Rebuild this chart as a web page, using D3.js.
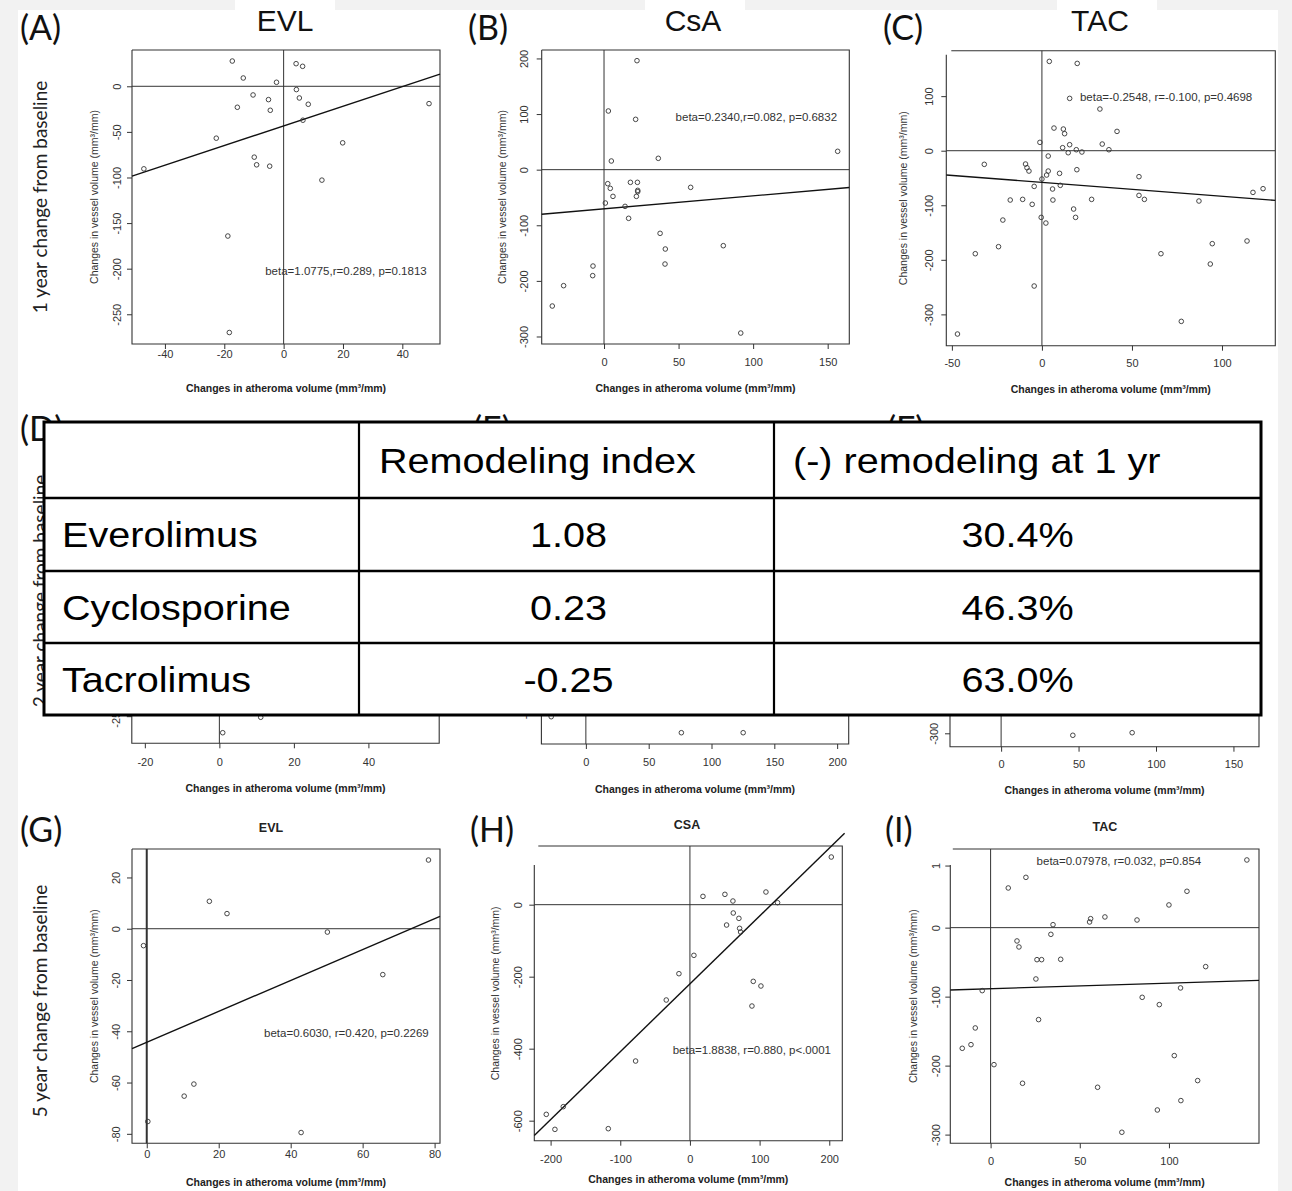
<!DOCTYPE html>
<html>
<meta charset="utf-8">
<script src="https://d3js.org/d3.v7.min.js"></script>
<style>
body { margin: 0; background: #f2f2f2; }
svg text { font-family: "Liberation Sans", Arial, sans-serif; }
</style>
<div id="fig"></div>

<script>

// ---- 1 year (A, B, C) ----
var evl1Atheroma = [-47.1,-22.7,-17.3,-13.6,-15.6,-10.3,-9.9,-9.1,-4.7,-5.1,-4.5,-2.4,-18.8,-18.3,4.2,6.4,4.3,5.3,8.3,6.5,19.9,12.9,49.0];
var evl1Vessel   = [-90.5,-56.9,27.7,9.1,-23.0,-9.5,-77.7,-86.1,-87.6,-14.6,-26.3,4.4,-164.2,-270.0,24.8,21.9,-3.6,-12.8,-19.7,-37.2,-62.0,-102.9,-19.0];

var csa1Atheroma = [22.1,2.9,21.2,4.9,36.4,156.7,2.5,4.2,6.0,0.9,17.7,22.4,22.6,22.6,21.7,14.1,16.5,58.1,37.6,41.1,40.9,80.0,-7.4,-7.6,-27.1,-34.7,91.7];
var csa1Vessel   = [196,105.5,90.5,15.6,20.4,33,-25.2,-33.6,-48,-60,-22.8,-22.8,-37.2,-39.6,-48,-66,-87.5,-31.8,-114.5,-142.7,-169.7,-136.7,-173.3,-190.6,-208.6,-245.2,-293.8];

var tac1Atheroma = [4.1,19.6,15.4,32.2,6.7,11.9,12.6,41.7,-1.1,15.4,33.5,11.5,19.1,14.6,22.2,37.2,3.5,-9.1,-8.3,-7.2,3.5,9.8,19.4,2.6,0,10.2,-4.3,5.9,-32,-17.6,-10.7,-5.4,6.1,27.6,17.6,18.7,-0.4,2.2,-21.7,-24.1,-37,-4.3,-46.9,53.9,53.9,56.9,87.2,117.2,122.8,66.1,77.4,94.6,93.5,113.9];
var tac1Vessel   = [163.7,160,95.9,76.4,41.5,39.7,31.2,35.4,15.3,11,12.2,5.5,1.8,-3.7,-2.4,1.8,-9.8,-24.4,-31.2,-37.3,-37.3,-41.5,-34.8,-44.6,-51.9,-63.5,-65.4,-70.2,-25,-90.4,-89.2,-98.3,-90.4,-89.2,-106.9,-122.2,-122.2,-132.6,-127.1,-175.9,-188.8,-248,-336,-47.6,-81.9,-89.2,-92.2,-76.4,-69.6,-188.8,-312.8,-170.4,-207.7,-165.5];

// ---- 2 year (D, E, F) : only the points left visible under the table ----
var evl2Atheroma = [11.1, 0.9];
var evl2Vessel   = [-251.2, -268.3];
var csa2Atheroma = [76, 125.2, -27.6];
var csa2Vessel   = [-348.2, -348.2, -317.3];
var tac2Atheroma = [46.3, 84.6];
var tac2Vessel   = [-303.7, -298.9];

// ---- 5 year (G, H, I) ----
var evl5Atheroma = [-0.9,17.4,22.3,50.2,65.6,78.3,13.1,10.4,0.3,42.9];
var evl5Vessel   = [-6.6,10.7,5.9,-1.3,-17.9,26.8,-60.6,-65.3,-75.2,-79.5];

var csa5Atheroma = [202.9,18.7,50.2,61.7,109.1,125.8,62.2,70.3,52.6,71.3,72.7,5.7,-15.8,-34,90.9,101.9,89,-78,-181.8,-206.2,-193.8,-117.2];
var csa5Vessel   = [132.4,23.1,28.7,10.2,35.2,5.6,-23.1,-38,-56.5,-65.7,-75.9,-140.7,-191.7,-264.8,-213,-225.9,-281.5,-434.3,-561.1,-582.4,-624.1,-622.2];

var tac5Atheroma = [143.7,19.8,9.9,110.1,100,64.1,82.1,56.1,55.5,35,33.8,14.8,15.9,26,28.6,39.3,120.6,25.4,106.5,-4.7,85,94.6,26.9,-8.6,-15.9,-11,1.9,17.9,60,103,116.1,106.7,93.5,73.6];
var tac5Vessel   = [98.1,72.9,57.5,52.7,32.9,15.5,11.1,13,8.2,4.3,-9.7,-19.3,-28,-46.4,-46.4,-45.9,-56.5,-74.4,-87.4,-91.3,-101,-111.6,-133.3,-145.4,-174.9,-169.6,-198.6,-225.6,-231.4,-185.5,-221.7,-250.7,-264.3,-296.6];

// regression fits (A, B, C, G, H, I)
var slopes     = [1.0775, 0.2340, -0.2548, 0.6030, 1.8838, 0.07978];
var intercepts = [-43.5, -70.5, -58.1, -44.3, -220, -88.5];
var statTexts  = ["beta=1.0775,r=0.289, p=0.1813", "beta=0.2340,r=0.082, p=0.6832",
                  "beta=-0.2548, r=-0.100, p=0.4698", "beta=0.6030, r=0.420, p=0.2269",
                  "beta=1.8838, r=0.880, p<.0001", "beta=0.07978, r=0.032, p=0.854"];

// table
var tableHeader     = ["", "Remodeling index", "(-) remodeling at 1 yr"];
var drugs           = ["Everolimus", "Cyclosporine", "Tacrolimus"];
var remodelingIndex = [1.08, 0.23, -0.25];
var negRemodeling   = [30.4, 46.3, 63.0];

var xLabel = "Changes in atheroma volume (mm\u00b3/mm)";
var yLabel = "Changes in vessel volume (mm\u00b3/mm)";

var svg = d3.select("#fig").append("svg")
  .attr("width", 1292)
  .attr("height", 1191);

svg.append("rect").attr("width", 1292).attr("height", 1191).attr("fill", "#f2f2f2");
svg.append("rect").attr("x", 18).attr("y", 10).attr("width", 1260).attr("height", 1181).attr("fill", "#fff");
[[235, 335], [645, 745], [1057, 1157]].forEach(function(s) {
  svg.append("rect").attr("x", s[0]).attr("y", 0).attr("width", s[1] - s[0]).attr("height", 10).attr("fill", "#fff");
});

var num = function(d) { return String(d); };

function panel(p) {
  var x = d3.scaleLinear().domain(p.xd).range([p.l, p.r]);
  var y = d3.scaleLinear().domain(p.yd).range([p.b, p.t]);
  var g = svg.append("g");

  // reference lines
  g.append("line").attr("x1", p.l).attr("x2", p.r).attr("y1", y(0)).attr("y2", y(0))
    .attr("stroke", "#333").attr("stroke-width", 1);
  g.append("line").attr("x1", x(0)).attr("x2", x(0)).attr("y1", p.t).attr("y2", p.b)
    .attr("stroke", "#333").attr("stroke-width", p.vw || 1);

  // box (some panels have an open top-left corner)
  var gt = p.gapTop || 0, gl = p.gapLeft || 0;
  g.append("path")
    .attr("d", "M" + (p.l + gt) + "," + p.t + "H" + p.r + "V" + p.b + "H" + p.l + "V" + (p.t + gl))
    .attr("fill", "none").attr("stroke", "#333").attr("stroke-width", 1.1);

  g.append("g")
    .attr("transform", "translate(0," + p.b + ")")
    .call(d3.axisBottom(x).tickValues(p.xt).tickSize(5).tickPadding(p.xpad).tickFormat(num))
    .call(function(a) { a.select(".domain").remove(); })
    .attr("font-size", 11).attr("color", "#333");

  g.append("g")
    .attr("transform", "translate(" + p.l + ",0)")
    .call(d3.axisLeft(y).tickValues(p.yt).tickSize(5)
      .tickFormat(function(d, i) { return p.ytl ? p.ytl[i] : String(d); }))
    .call(function(a) { a.select(".domain").remove(); })
    .attr("font-size", 11).attr("color", "#333")
    .call(function(a) {
      a.selectAll("text").attr("x", null).attr("dy", null)
        .attr("text-anchor", "middle")
        .attr("transform", "translate(" + (-(p.yoff - 4)) + ",0) rotate(-90)");
    });

  // fit line
  if (p.fit !== undefined) {
    var x0 = p.fitRange ? p.fitRange[0] : p.xd[0];
    var x1 = p.fitRange ? p.fitRange[1] : p.xd[1];
    var f = function(v) { return intercepts[p.fit] + slopes[p.fit] * v; };
    g.append("line")
      .attr("x1", x(x0)).attr("y1", y(f(x0)))
      .attr("x2", x(x1)).attr("y2", y(f(x1)))
      .attr("stroke", "#111").attr("stroke-width", 1.4);
    g.append("text")
      .attr("x", x(p.stat[0])).attr("y", y(p.stat[1]))
      .attr("dy", "0.35em")
      .attr("font-size", 11.5).attr("fill", "#333")
      .text(statTexts[p.fit]);
  }

  g.selectAll("circle")
    .data(p.xs)
    .enter()
    .append("circle")
    .attr("cx", function(d) { return x(d); })
    .attr("cy", function(d, i) { return y(p.ys[i]); })
    .attr("r", 2.3)
    .attr("fill", "none")
    .attr("stroke", "#333")
    .attr("stroke-width", 0.9);

  g.append("text")
    .attr("transform", "translate(" + (p.l - p.ylo + 4) + "," + ((p.t + p.b) / 2) + ") rotate(-90)")
    .attr("text-anchor", "middle")
    .attr("font-size", 10.5).attr("fill", "#333")
    .text(yLabel);

  g.append("text")
    .attr("x", (p.l + p.r) / 2).attr("y", p.b + p.xlo)
    .attr("text-anchor", "middle")
    .attr("font-size", 10.5).attr("font-weight", "bold").attr("fill", "#222")
    .text(xLabel);

  if (p.title) {
    g.append("text")
      .attr("x", p.title[1]).attr("y", p.title[2])
      .attr("text-anchor", "middle")
      .attr("font-size", 12.5).attr("font-weight", "bold").attr("fill", "#222")
      .text(p.title[0]);
  }
}

// row 1
panel({ l: 132, r: 440, t: 50, b: 344, xd: [-51.1, 52.7], yd: [-282.6, 39.8],
  xt: [-40, -20, 0, 20, 40], yt: [-250, -200, -150, -100, -50, 0],
  xs: evl1Atheroma, ys: evl1Vessel, fit: 0, stat: [-6.2, -202.5],
  xpad: 1.5, yoff: 15.5, ylo: 38, xlo: 48 });
panel({ l: 541.7, r: 849.3, t: 50, b: 344, xd: [-41.8, 164.5], yd: [-313.5, 215.2],
  xt: [0, 50, 100, 150], yt: [-300, -200, -100, 0, 100, 200],
  xs: csa1Atheroma, ys: csa1Vessel, fit: 1, stat: [48, 95.3],
  xpad: 9.5, yoff: 17.4, ylo: 40, xlo: 48 });
panel({ l: 946.3, r: 1275.3, t: 50.7, b: 345.7, xd: [-53.1, 129.6], yd: [-357.4, 183.3],
  xt: [-50, 0, 50, 100], yt: [-300, -200, -100, 0, 100],
  xs: tac1Atheroma, ys: tac1Vessel, fit: 2, stat: [21.1, 97.9],
  xpad: 9, yoff: 17.3, ylo: 43, xlo: 47, gapTop: 5, gapLeft: 4 });

// row 2 (mostly covered by the table)
panel({ l: 131.8, r: 439.2, t: 454, b: 743.3, xd: [-23.5, 59], yd: [-280, 40],
  xt: [-20, 0, 20, 40], yt: [-250],
  xs: evl2Atheroma, ys: evl2Vessel,
  xpad: 9.5, yoff: 16, ylo: 38, xlo: 49 });
panel({ l: 541.4, r: 848.7, t: 454, b: 744, xd: [-35.4, 209.2], yd: [-370, 190],
  xt: [0, 50, 100, 150, 200], yt: [-300],
  xs: csa2Atheroma, ys: csa2Vessel,
  xpad: 9.5, yoff: 16, ylo: 40, xlo: 49 });
panel({ l: 950, r: 1259, t: 454, b: 746.7, xd: [-33, 166.5], yd: [-325, 221],
  xt: [0, 50, 100, 150], yt: [-300],
  xs: tac2Atheroma, ys: tac2Vessel,
  xpad: 9, yoff: 16, ylo: 40, xlo: 47 });

// row 3
panel({ l: 132, r: 440, t: 849, b: 1143.3, xd: [-4.1, 81.5], yd: [-83.7, 31.1],
  xt: [0, 20, 40, 60, 80], yt: [-80, -60, -40, -20, 0, 20],
  xs: evl5Atheroma, ys: evl5Vessel, fit: 3, stat: [32.6, -40.7],
  xpad: 1.5, yoff: 16, ylo: 38, xlo: 43, vw: 2, title: ["EVL", 271, 832] });
panel({ l: 534.3, r: 842.3, t: 846, b: 1140.7, xd: [-223.4, 218.7], yd: [-655.6, 163],
  xt: [-200, -100, 0, 100, 200], yt: [-600, -400, -200, 0],
  xs: csa5Atheroma, ys: csa5Vessel, fit: 4, stat: [-24.8, -403.6], fitRange: [-223.4, 222],
  xpad: 9.5, yoff: 16, ylo: 39, xlo: 42, gapTop: 4, gapLeft: 19, title: ["CSA", 687, 829] });
panel({ l: 950.3, r: 1259, t: 849, b: 1143.3, xd: [-22.6, 150.5], yd: [-312.6, 114],
  xt: [0, 50, 100], yt: [-300, -200, -100, 0, 90], ytl: ["-300", "-200", "-100", "0", "1"],
  xs: tac5Atheroma, ys: tac5Vessel, fit: 5, stat: [25.8, 96.7],
  xpad: 9, yoff: 14.5, ylo: 37, xlo: 43, gapTop: 2.5, gapLeft: 16, title: ["TAC", 1105, 831] });

// big headings
[["EVL", 285], ["CsA", 693], ["TAC", 1100]].forEach(function(h) {
  svg.append("text").attr("x", h[1]).attr("y", 31).attr("text-anchor", "middle")
    .attr("font-size", 30).attr("fill", "#111").text(h[0]);
});
var panelLetters = [["(A)", 20, 40], ["(B)", 468, 40], ["(C)", 883, 40],
                    ["(D)", 20, 441], ["(E)", 473, 441], ["(F)", 887, 441],
                    ["(G)", 20, 842], ["(H)", 470, 842], ["(I)", 885, 842]];
panelLetters.forEach(function(l) {
  svg.append("text").attr("x", l[1]).attr("y", l[2])
    .style("font-family", "Lato, 'Open Sans', sans-serif")
    .attr("font-size", 34).attr("fill", "#111").text(l[0]);
});
[["1 year change from baseline", 197], ["2 year change from baseline", 591], ["5 year change from baseline", 1001]]
  .forEach(function(r) {
    svg.append("text")
      .attr("transform", "translate(47," + r[1] + ") rotate(-90)")
      .attr("text-anchor", "middle")
      .style("font-family", "Lato, 'Open Sans', sans-serif")
      .attr("font-size", 19).attr("fill", "#222").text(r[0]);
  });

// table over row 2
var colX = [44, 359, 774, 1261];
var rowY = [422, 498, 571, 643, 715];
var tg = svg.append("g");
tg.append("rect").attr("x", colX[0]).attr("y", rowY[0])
  .attr("width", colX[3] - colX[0]).attr("height", rowY[4] - rowY[0])
  .attr("fill", "#fff").attr("stroke", "#000").attr("stroke-width", 3);
rowY.slice(1, 4).forEach(function(yy) {
  tg.append("line").attr("x1", colX[0]).attr("x2", colX[3]).attr("y1", yy).attr("y2", yy)
    .attr("stroke", "#000").attr("stroke-width", 2.5);
});
colX.slice(1, 3).forEach(function(xx) {
  tg.append("line").attr("x1", xx).attr("x2", xx).attr("y1", rowY[0]).attr("y2", rowY[4])
    .attr("stroke", "#000").attr("stroke-width", 2.2);
});

function cell(txt, x, row, anchor) {
  var cy = (rowY[row] + rowY[row + 1]) / 2;
  tg.append("text")
    .attr("transform", "translate(" + x + "," + cy + ") scale(1.1,1)")
    .attr("dy", "0.35em")
    .attr("text-anchor", anchor)
    .attr("font-size", 36).attr("fill", "#000")
    .text(txt);
}
cell(tableHeader[1], colX[1] + 20, 0, "start");
cell(tableHeader[2], colX[2] + 19, 0, "start");
drugs.forEach(function(d, i) {
  cell(d, colX[0] + 18, i + 1, "start");
  cell(d3.format(".2f")(remodelingIndex[i]).replace("\u2212", "-"), (colX[1] + colX[2]) / 2 + 2, i + 1, "middle");
  cell(d3.format(".1f")(negRemodeling[i]) + "%", (colX[2] + colX[3]) / 2, i + 1, "middle");
});

</script>
</html>
